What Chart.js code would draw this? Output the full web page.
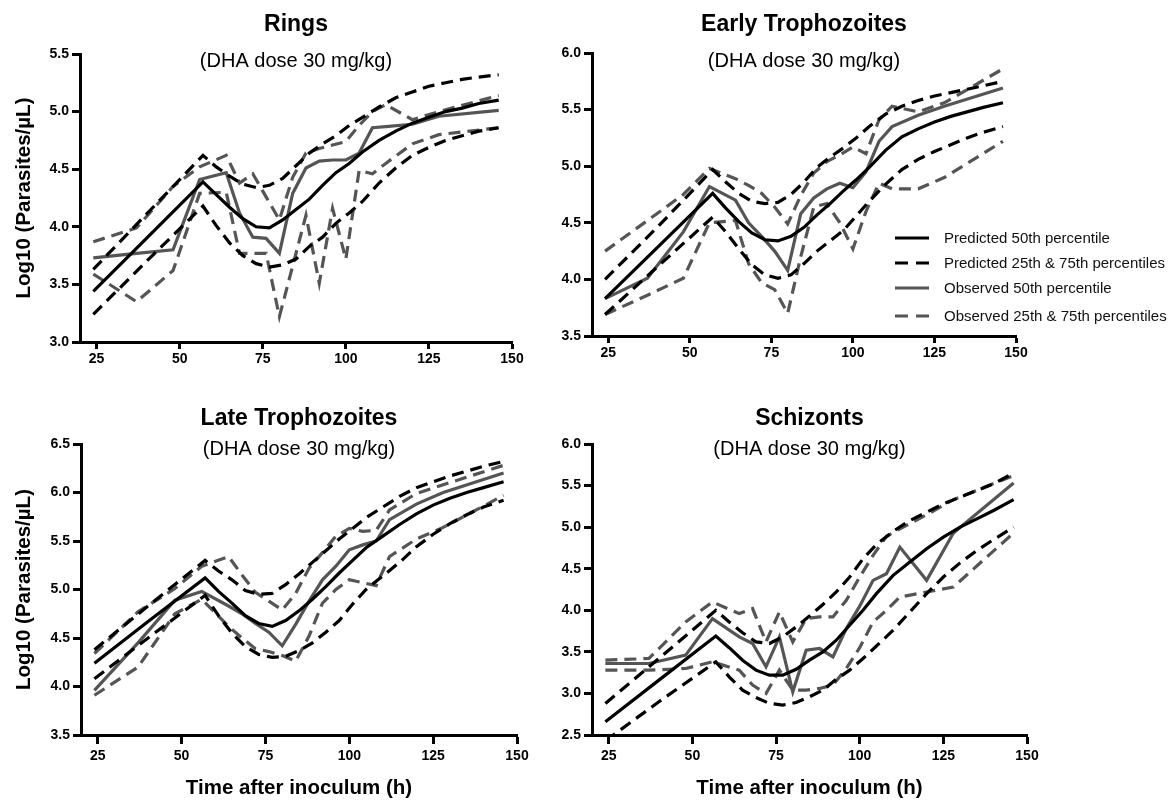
<!DOCTYPE html>
<html>
<head>
<meta charset="utf-8">
<script src="https://cdn.jsdelivr.net/npm/chart.js@4.4.0/dist/chart.umd.min.js"></script>
<style>
html,body{margin:0;padding:0;background:#fff;}
#wrap{position:relative;width:1173px;height:800px;overflow:hidden;}
#wrap canvas{position:absolute;left:0;top:0;}
</style>
</head>
<body>
<div id="wrap">
<canvas id="c1" width="1173" height="800"></canvas>
<canvas id="c2" width="1173" height="800"></canvas>
<canvas id="c3" width="1173" height="800"></canvas>
<canvas id="c4" width="1173" height="800"></canvas>
</div>
<script>
// ---------------- DATA ----------------
const xTicks = [25, 50, 75, 100, 125, 150];
const predTimes = [24, 40, 57, 61, 65, 69, 73, 77, 81, 85, 89, 93, 97, 101, 105, 110, 115, 120, 125, 130, 135, 140, 146];
const obsTimes  = [24, 37, 48, 56, 64, 68, 72, 76, 80, 84, 88, 92, 96, 100, 104, 108, 112, 120, 128, 146];

const panelTitles = ['Rings', 'Early Trophozoites', 'Late Trophozoites', 'Schizonts'];
const subtitleText = '(DHA dose 30 mg/kg)';
const yAxisTitle = 'Log10 (Parasites/µL)';
const xAxisTitle = 'Time after inoculum (h)';
const legendLabels = ['Predicted 50th percentile', 'Predicted 25th & 75th percentiles', 'Observed 50th percentile', 'Observed 25th & 75th percentiles'];

// Rings
const ringsPred50 = [3.44, 3.90, 4.39, 4.28, 4.17, 4.07, 4.00, 3.99, 4.06, 4.15, 4.24, 4.36, 4.47, 4.55, 4.65, 4.75, 4.83, 4.90, 4.95, 5.00, 5.03, 5.07, 5.10];
const ringsPred75 = [3.63, 4.11, 4.62, 4.52, 4.44, 4.37, 4.34, 4.36, 4.42, 4.53, 4.64, 4.72, 4.79, 4.88, 4.95, 5.04, 5.12, 5.17, 5.22, 5.25, 5.28, 5.30, 5.32];
const ringsPred25 = [3.24, 3.70, 4.18, 4.01, 3.86, 3.75, 3.68, 3.65, 3.67, 3.72, 3.83, 3.91, 4.03, 4.12, 4.22, 4.38, 4.51, 4.62, 4.69, 4.75, 4.79, 4.83, 4.86];
const ringsObs50  = [3.73, 3.77, 3.80, 4.41, 4.47, 4.12, 3.91, 3.90, 3.77, 4.29, 4.51, 4.57, 4.58, 4.58, 4.64, 4.86, 4.87, 4.89, 4.96, 5.01];
const ringsObs75  = [3.87, 3.99, 4.35, 4.52, 4.62, 4.38, 4.46, 4.26, 4.06, 4.43, 4.64, 4.68, 4.71, 4.74, 4.88, 5.00, 5.06, 4.93, 5.00, 5.14];
const ringsObs25  = [3.59, 3.35, 3.62, 4.29, 4.30, 3.77, 3.77, 3.77, 3.22, 3.66, 4.10, 3.51, 4.16, 3.72, 4.49, 4.46, 4.55, 4.72, 4.80, 4.86];

// Early Trophozoites
const etPred50 = [3.83, 4.28, 4.76, 4.63, 4.51, 4.41, 4.35, 4.34, 4.38, 4.46, 4.57, 4.67, 4.78, 4.88, 4.99, 5.14, 5.26, 5.33, 5.39, 5.44, 5.48, 5.52, 5.56];
const etPred75 = [4.00, 4.46, 4.97, 4.86, 4.76, 4.69, 4.67, 4.68, 4.75, 4.86, 4.99, 5.08, 5.16, 5.25, 5.35, 5.46, 5.53, 5.58, 5.62, 5.65, 5.68, 5.71, 5.75];
const etPred25 = [3.69, 4.11, 4.55, 4.42, 4.27, 4.13, 4.04, 4.01, 4.04, 4.14, 4.25, 4.34, 4.43, 4.56, 4.69, 4.84, 4.97, 5.06, 5.13, 5.19, 5.25, 5.30, 5.35];
const etObs50  = [3.83, 4.01, 4.42, 4.82, 4.70, 4.50, 4.38, 4.25, 4.08, 4.58, 4.72, 4.80, 4.85, 4.81, 4.95, 5.22, 5.35, 5.45, 5.53, 5.69];
const etObs75  = [4.25, 4.52, 4.75, 4.98, 4.89, 4.83, 4.76, 4.64, 4.49, 4.74, 4.94, 5.04, 5.10, 5.17, 5.11, 5.41, 5.53, 5.48, 5.56, 5.86];
const etObs25  = [3.69, 3.86, 4.01, 4.50, 4.52, 4.14, 3.97, 3.91, 3.70, 4.20, 4.64, 4.67, 4.50, 4.27, 4.60, 4.85, 4.80, 4.80, 4.90, 5.22];

// Late Trophozoites
const ltPred50 = [4.24, 4.67, 5.12, 4.98, 4.86, 4.73, 4.65, 4.62, 4.68, 4.78, 4.90, 5.03, 5.17, 5.30, 5.43, 5.55, 5.67, 5.78, 5.87, 5.94, 6.00, 6.05, 6.11];
const ltPred75 = [4.38, 4.83, 5.30, 5.19, 5.10, 4.99, 4.95, 4.96, 5.05, 5.16, 5.28, 5.40, 5.52, 5.63, 5.74, 5.85, 5.96, 6.05, 6.11, 6.17, 6.22, 6.27, 6.32];
const ltPred25 = [4.08, 4.50, 4.94, 4.73, 4.55, 4.41, 4.33, 4.30, 4.31, 4.37, 4.45, 4.56, 4.68, 4.85, 5.00, 5.14, 5.28, 5.44, 5.57, 5.68, 5.77, 5.85, 5.92];
const ltObs50  = [3.96, 4.45, 4.89, 4.98, 4.83, 4.75, 4.65, 4.56, 4.42, 4.64, 4.88, 5.10, 5.24, 5.41, 5.46, 5.50, 5.72, 5.88, 6.00, 6.20];
const ltObs75  = [4.34, 4.77, 5.01, 5.24, 5.34, 5.15, 4.97, 4.88, 4.79, 4.96, 5.22, 5.38, 5.55, 5.63, 5.60, 5.61, 5.82, 5.99, 6.08, 6.28];
const ltObs25  = [3.91, 4.20, 4.75, 4.90, 4.62, 4.50, 4.39, 4.36, 4.32, 4.26, 4.52, 4.86, 5.00, 5.10, 5.07, 5.04, 5.34, 5.52, 5.64, 5.97];

// Schizonts
const scPred50 = [2.66, 3.16, 3.69, 3.55, 3.40, 3.28, 3.22, 3.22, 3.29, 3.40, 3.50, 3.64, 3.82, 4.00, 4.20, 4.42, 4.58, 4.74, 4.88, 5.00, 5.10, 5.20, 5.33];
const scPred75 = [2.88, 3.42, 4.00, 3.86, 3.73, 3.62, 3.60, 3.68, 3.80, 3.93, 4.07, 4.22, 4.40, 4.62, 4.79, 4.95, 5.08, 5.18, 5.28, 5.36, 5.44, 5.52, 5.65];
const scPred25 = [2.43, 2.90, 3.38, 3.20, 3.04, 2.95, 2.88, 2.86, 2.89, 2.96, 3.04, 3.17, 3.28, 3.42, 3.57, 3.76, 3.98, 4.20, 4.40, 4.57, 4.72, 4.85, 5.00];
const scObs50  = [3.36, 3.36, 3.46, 3.90, 3.68, 3.60, 3.32, 3.68, 3.02, 3.52, 3.54, 3.44, 3.78, 4.05, 4.36, 4.44, 4.76, 4.36, 4.93, 5.53];
const scObs75  = [3.40, 3.42, 3.86, 4.10, 3.96, 4.02, 3.62, 3.98, 3.62, 3.90, 3.92, 3.92, 4.12, 4.40, 4.66, 4.89, 4.98, 5.15, 5.33, 5.62];
const scObs25  = [3.28, 3.28, 3.30, 3.38, 3.28, 3.10, 3.00, 3.28, 3.04, 3.04, 3.06, 3.10, 3.30, 3.55, 3.86, 4.00, 4.16, 4.22, 4.28, 4.93];

// ---------------- STYLE / LAYOUT ----------------
const FONT = '"Liberation Sans", Arial, Helvetica, sans-serif';
const BLACK = '#000000';
const GRAY = '#555555';
const DASH = [12, 7];
const LW = 3.2;
const W = 1173, H = 800;

const seriesStyles = [
  {color: BLACK, dash: []},
  {color: BLACK, dash: DASH},
  {color: BLACK, dash: DASH},
  {color: GRAY, dash: []},
  {color: GRAY, dash: DASH},
  {color: GRAY, dash: DASH}
];

const panels = [
  {id: 'c1', title: panelTitles[0], L: 80, R: 512, T: 54, B: 342, ymin: 3.0, ymax: 5.5, yTitle: true, xTitle: false,
   titleBase: 31, subBase: 67, tickLen: 7, xPad: 2, legend: false,
   vals: [ringsPred50, ringsPred75, ringsPred25, ringsObs50, ringsObs75, ringsObs25]},
  {id: 'c2', title: panelTitles[1], L: 592, R: 1016, T: 53, B: 336, ymin: 3.5, ymax: 6.0, yTitle: false, xTitle: false,
   titleBase: 31, subBase: 67, tickLen: 7, xPad: 2, legend: true,
   vals: [etPred50, etPred75, etPred25, etObs50, etObs75, etObs25]},
  {id: 'c3', title: panelTitles[2], L: 81, R: 517, T: 444, B: 735, ymin: 3.5, ymax: 6.5, yTitle: true, xTitle: true,
   titleBase: 425, subBase: 455, tickLen: 9, xPad: 4, legend: false,
   vals: [ltPred50, ltPred75, ltPred25, ltObs50, ltObs75, ltObs25]},
  {id: 'c4', title: panelTitles[3], L: 592, R: 1027, T: 444, B: 735, ymin: 2.5, ymax: 6.0, yTitle: false, xTitle: true,
   titleBase: 425, subBase: 455, tickLen: 9, xPad: 4, legend: false,
   vals: [scPred50, scPred75, scPred25, scObs50, scObs75, scObs25]}
];

const legendBox = {x1: 895, x2: 929, textX: 944, rows: [238, 263, 288, 316]};

const textPlugin = {
  id: 'panelText',
  afterDraw(chart, args, o) {
    const {ctx, chartArea} = chart;
    const cx = (chartArea.left + chartArea.right) / 2;
    ctx.save();
    ctx.fillStyle = '#000';
    ctx.textAlign = 'center';
    ctx.textBaseline = 'alphabetic';
    ctx.font = 'bold 23px ' + FONT;
    ctx.fillText(o.title, cx, o.titleBase);
    ctx.font = '20px ' + FONT;
    ctx.fillText(subtitleText, cx, o.subBase);
    if (o.legend) {
      const styleIdx = [0, 1, 3, 4];
      legendLabels.forEach((lab, i) => {
        const st = seriesStyles[styleIdx[i]];
        const y = legendBox.rows[i];
        ctx.beginPath();
        ctx.setLineDash(st.dash.length ? [13, 8] : []);
        ctx.lineWidth = LW;
        ctx.strokeStyle = st.color;
        ctx.moveTo(legendBox.x1, y);
        ctx.lineTo(legendBox.x2, y);
        ctx.stroke();
        ctx.setLineDash([]);
        ctx.fillStyle = '#111';
        ctx.textAlign = 'left';
        ctx.textBaseline = 'middle';
        ctx.font = '15px ' + FONT;
        ctx.fillText(lab, legendBox.textX, y + 1);
      });
    }
    ctx.restore();
  }
};

function pts(times, vals) {
  return times.map((t, i) => ({x: t, y: vals[i]}));
}

panels.forEach(p => {
  const yW = p.yTitle ? p.L : 70;
  const xH = p.xTitle ? 64 : 30;
  const datasets = p.vals.map((v, i) => ({
    data: pts(i < 3 ? predTimes : obsTimes, v),
    borderColor: seriesStyles[i].color,
    borderDash: seriesStyles[i].dash,
    borderWidth: LW,
    pointRadius: 0,
    fill: false,
    tension: 0,
    order: i < 3 ? 0 : 1
  }));
  new Chart(document.getElementById(p.id), {
    type: 'line',
    data: {datasets},
    plugins: [textPlugin],
    options: {
      responsive: false,
      animation: false,
      events: [],
      layout: {padding: {left: p.L - yW, right: W - p.R, top: p.T, bottom: H - p.B - xH}},
      plugins: {
        legend: {display: false},
        tooltip: {enabled: false},
        panelText: {title: p.title, titleBase: p.titleBase, subBase: p.subBase, legend: p.legend}
      },
      scales: {
        x: {
          type: 'linear', min: 20, max: 150,
          afterBuildTicks: s => { s.ticks = xTicks.map(v => ({value: v})); },
          afterFit: s => { s.height = xH; },
          grid: {display: true, drawOnChartArea: false, drawTicks: true, tickLength: p.tickLen, tickWidth: 3, tickColor: '#000'},
          border: {display: true, color: '#000', width: 3},
          ticks: {color: '#000', font: {family: FONT, size: 14, weight: 'bold'}, padding: p.xPad, maxRotation: 0, autoSkip: false},
          title: {display: p.xTitle, text: xAxisTitle, color: '#000', font: {family: FONT, size: 20.5, weight: 'bold', lineHeight: 1}, padding: {top: 0, bottom: 0}}
        },
        y: {
          type: 'linear', min: p.ymin, max: p.ymax,
          afterFit: s => { s.width = yW; },
          grid: {display: true, drawOnChartArea: false, drawTicks: true, tickLength: 8, tickWidth: 3, tickColor: '#000'},
          border: {display: true, color: '#000', width: 3},
          ticks: {stepSize: 0.5, color: '#000', font: {family: FONT, size: 14, weight: 'bold'}, padding: 3,
                  callback: v => Number(v).toFixed(1)},
          title: {display: p.yTitle, text: yAxisTitle, color: '#000', font: {family: FONT, size: 20.5, weight: 'bold'}, padding: {top: 12, bottom: 0}}
        }
      }
    }
  });
});
</script>
</body>
</html>
